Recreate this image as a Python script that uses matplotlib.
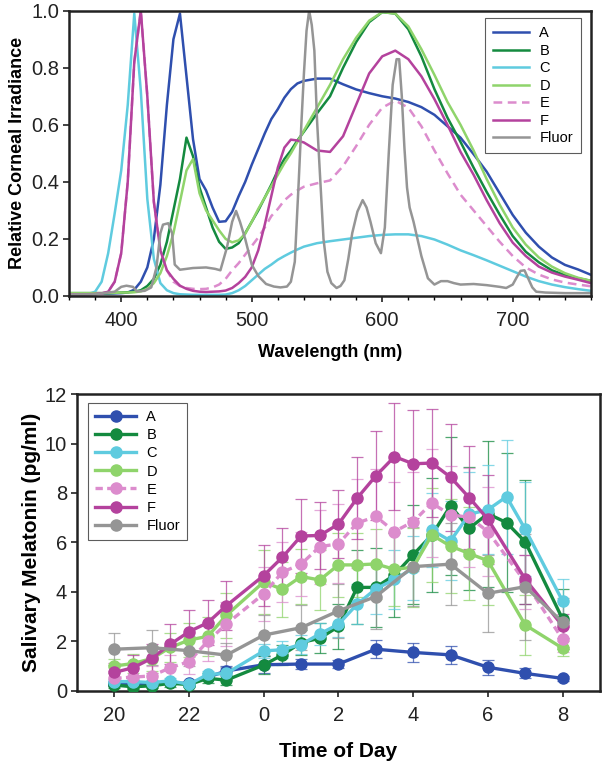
import matplotlib
matplotlib.use("Agg")
import matplotlib.pyplot as plt
from matplotlib.ticker import MultipleLocator

plt.rcParams['font.family'] = ['Liberation Sans', 'DejaVu Sans']

# ---------- spectra (top panel) ----------
wl = list(range(360, 540, 5)) + list(range(540, 761, 10))

spec_A = [0.008, 0.008, 0.008, 0.008, 0.008, 0.008, 0.008, 0.009, 0.010, 0.012,
          0.022, 0.050, 0.100, 0.200, 0.390, 0.670, 0.900, 0.990, 0.770, 0.550,
          0.410, 0.370, 0.310, 0.260, 0.262, 0.295, 0.350, 0.400, 0.460, 0.515,
          0.570, 0.620, 0.655, 0.695, 0.725, 0.745,
          0.754, 0.762, 0.762, 0.742, 0.724, 0.711, 0.700, 0.692, 0.680, 0.662,
          0.635, 0.595, 0.555, 0.497, 0.436, 0.360, 0.284, 0.222, 0.173, 0.135,
          0.109, 0.093, 0.074]
spec_B = [0.010, 0.010, 0.010, 0.010, 0.010, 0.010, 0.010, 0.011, 0.012, 0.013,
          0.015, 0.020, 0.035, 0.060, 0.110, 0.190, 0.300, 0.410, 0.555, 0.490,
          0.380, 0.310, 0.240, 0.190, 0.165, 0.170, 0.185, 0.220, 0.260, 0.300,
          0.345, 0.390, 0.440, 0.480, 0.510, 0.545,
          0.576, 0.640, 0.700, 0.800, 0.890, 0.960, 0.995, 0.990, 0.935, 0.840,
          0.725, 0.625, 0.540, 0.450, 0.365, 0.285, 0.210, 0.155, 0.118, 0.090,
          0.073, 0.062, 0.053]
spec_C = [0.005, 0.005, 0.005, 0.007, 0.015, 0.050, 0.150, 0.290, 0.440, 0.670,
          0.990, 0.720, 0.340, 0.130, 0.045, 0.020, 0.010, 0.006, 0.005, 0.004,
          0.004, 0.004, 0.004, 0.004, 0.005, 0.010, 0.020, 0.035, 0.055, 0.075,
          0.095, 0.110, 0.127, 0.140, 0.152, 0.163,
          0.173, 0.185, 0.192, 0.198, 0.204, 0.210, 0.214, 0.216, 0.216, 0.210,
          0.198, 0.180, 0.160, 0.143, 0.125, 0.106, 0.087, 0.068, 0.052, 0.040,
          0.031, 0.024, 0.018]
spec_D = [0.010, 0.010, 0.010, 0.010, 0.010, 0.010, 0.010, 0.011, 0.012, 0.012,
          0.013, 0.016, 0.025, 0.045, 0.080, 0.140, 0.220, 0.330, 0.440, 0.480,
          0.360, 0.300, 0.265, 0.230, 0.200, 0.188, 0.195, 0.218, 0.260, 0.305,
          0.345, 0.385, 0.425, 0.465, 0.500, 0.540,
          0.580, 0.660, 0.740, 0.830, 0.905, 0.965, 0.995, 0.990, 0.945, 0.865,
          0.775, 0.680, 0.600, 0.510, 0.410, 0.320, 0.240, 0.180, 0.135, 0.103,
          0.080, 0.064, 0.053]
spec_E = [0.005, 0.005, 0.005, 0.006, 0.007, 0.009, 0.015, 0.050, 0.150, 0.400,
          0.820, 1.000, 0.700, 0.330, 0.160, 0.090, 0.050, 0.035, 0.028, 0.025,
          0.024, 0.025, 0.030, 0.040, 0.060, 0.090, 0.115, 0.145, 0.175, 0.205,
          0.240, 0.280, 0.305, 0.335, 0.355, 0.370,
          0.383, 0.395, 0.405, 0.455, 0.525, 0.600, 0.660, 0.685, 0.660, 0.595,
          0.510, 0.430, 0.355, 0.300, 0.245, 0.190, 0.140, 0.100, 0.075, 0.058,
          0.047, 0.040, 0.034]
spec_F = [0.005, 0.005, 0.005, 0.006, 0.007, 0.009, 0.015, 0.050, 0.150, 0.400,
          0.820, 1.000, 0.700, 0.330, 0.160, 0.090, 0.060, 0.036, 0.025, 0.018,
          0.015, 0.014, 0.015, 0.016, 0.019, 0.028, 0.045, 0.067, 0.100, 0.160,
          0.250, 0.350, 0.450, 0.520, 0.548, 0.545,
          0.538, 0.510, 0.505, 0.560, 0.670, 0.780, 0.840, 0.860, 0.830, 0.770,
          0.690, 0.600, 0.505, 0.425, 0.336, 0.255, 0.187, 0.140, 0.103, 0.082,
          0.068, 0.057, 0.045]

fl_wl = [360, 380, 395, 400, 404, 409, 412, 418, 423, 427, 430, 432, 436, 439, 441,
         445, 455, 465, 472, 476, 481, 485, 488, 491, 495, 500, 505, 511, 517, 522,
         527, 530, 533, 536, 538, 540, 542, 544, 546, 548, 550, 552, 555, 558, 561,
         565, 568, 571, 574, 577, 581, 585, 588, 591, 595, 599, 602, 605, 608, 611,
         613, 615, 617, 619, 621, 624, 627, 630, 635, 640, 645, 650, 655, 660, 670,
         680, 690, 695, 700, 703, 706, 709, 712, 715, 718, 725, 740, 760]
spec_fluor = [0.005, 0.006, 0.015, 0.032, 0.036, 0.032, 0.016, 0.018, 0.030, 0.100,
              0.220, 0.250, 0.255, 0.220, 0.110, 0.092, 0.098, 0.100, 0.095, 0.090,
              0.170, 0.260, 0.298, 0.260, 0.200, 0.110, 0.070, 0.042, 0.033, 0.030,
              0.033, 0.050, 0.120, 0.400, 0.600, 0.780, 0.930, 1.000, 0.950, 0.860,
              0.620, 0.450, 0.200, 0.085, 0.045, 0.028, 0.035, 0.055, 0.130, 0.220,
              0.296, 0.336, 0.310, 0.260, 0.185, 0.150, 0.240, 0.500, 0.740, 0.830,
              0.830, 0.700, 0.520, 0.380, 0.310, 0.260, 0.200, 0.140, 0.062, 0.040,
              0.052, 0.052, 0.045, 0.040, 0.042, 0.038, 0.032, 0.028, 0.040, 0.065,
              0.088, 0.090, 0.060, 0.030, 0.015, 0.012, 0.010, 0.010]

# ---------- melatonin (bottom panel) ----------
# hours after midnight are written as 24 + h
t_hour = [20, 21, 22, 23, 24, 25, 26, 27, 28, 29, 30, 31, 32]
t_half = [20, 20.5, 21, 21.5, 22, 22.5, 23, 24, 24.5, 25, 25.5, 26, 26.5, 27,
          27.5, 28, 28.5, 29, 29.5, 30, 30.5, 31, 32]
t_half_b = [20, 20.5, 21, 21.5, 22, 22.5, 23, 24, 24.5, 25, 25.5, 26, 26.5, 27,
            27.5, 28, 28.5, 29, 29.5, 30, 31, 32]

mel_A = [0.28, 0.30, 0.30, 0.80, 1.05, 1.08, 1.08, 1.68, 1.55, 1.45, 0.95, 0.70, 0.50]
err_A = [0.10, 0.10, 0.10, 0.20, 0.35, 0.20, 0.15, 0.37, 0.40, 0.37, 0.30, 0.20, 0.10]

mel_B = [0.23, 0.16, 0.20, 0.30, 0.25, 0.50, 0.43, 1.04, 1.45, 1.95, 2.12, 2.60,
         4.18, 4.18, 4.68, 5.50, 6.30, 7.48, 6.57, 7.16, 6.80, 6.02, 2.90]
err_B = [0.10, 0.10, 0.10, 0.15, 0.10, 0.20, 0.20, 0.35, 0.40, 0.50, 0.60, 0.90,
         1.50, 1.60, 1.70, 2.00, 2.30, 2.80, 2.50, 2.95, 2.80, 2.50, 1.20]

mel_C = [0.37, 0.37, 0.33, 0.40, 0.26, 0.66, 0.70, 1.61, 1.66, 1.87, 2.30, 2.69,
         3.50, 4.12, 4.50, 4.95, 6.50, 6.06, 7.14, 7.32, 7.85, 6.53, 3.63]
err_C = [0.10, 0.10, 0.10, 0.10, 0.10, 0.15, 0.20, 0.30, 0.35, 0.40, 0.45, 0.50,
         0.80, 1.00, 1.20, 1.30, 1.50, 1.60, 1.70, 1.80, 2.30, 1.90, 0.90]

mel_D = [1.00, 1.10, 1.30, 1.75, 2.05, 2.20, 3.05, 4.40, 4.10, 4.62, 4.48, 5.09,
         5.09, 5.13, 4.91, 5.00, 6.30, 5.85, 5.55, 5.26, 2.66, 1.72]
err_D = [0.30, 0.40, 0.50, 0.60, 0.70, 0.80, 0.90, 1.30, 1.10, 1.10, 1.20, 1.30,
         1.30, 1.40, 1.50, 1.60, 1.90, 1.90, 1.90, 1.80, 1.20, 0.30]

mel_E = [0.50, 0.55, 0.60, 0.93, 1.18, 2.00, 2.70, 3.92, 4.80, 5.12, 5.83, 5.94,
         6.78, 7.05, 6.44, 6.84, 7.59, 7.11, 7.02, 6.44, 4.40, 2.08]
err_E = [0.30, 0.35, 0.40, 0.50, 0.50, 0.80, 0.90, 1.10, 1.20, 1.30, 1.50, 1.60,
         1.80, 1.90, 2.00, 2.00, 2.20, 2.00, 2.00, 1.80, 1.10, 0.50]

mel_F = [0.74, 0.93, 1.31, 1.88, 2.39, 2.75, 3.44, 4.66, 5.40, 6.26, 6.28, 6.74,
         7.79, 8.69, 9.47, 9.18, 9.21, 8.64, 7.81, 6.94, 4.51, 2.62]
err_F = [0.40, 0.50, 0.60, 0.80, 0.88, 0.90, 1.00, 1.22, 1.17, 1.50, 1.35, 1.38,
         1.66, 1.80, 2.16, 2.18, 2.18, 2.16, 2.07, 1.80, 1.00, 0.50]

mel_fluor = [1.68, 1.74, 1.62, 1.44, 2.25, 2.55, 3.23, 3.81, 5.02, 5.12, 3.94, 4.21, 2.77]
err_fluor = [0.65, 0.70, 0.60, 0.50, 0.80, 0.90, 1.10, 1.30, 1.60, 1.65, 1.55, 2.15, 1.00]

hour_ticks = [20, 22, 24, 26, 28, 30, 32]
hour_labels = ['20', '22', '0', '2', '4', '6', '8']

names = ['A', 'B', 'C', 'D', 'E', 'F', 'Fluor']
colors = ['#2f4fae', '#148a3f', '#5fcbdf', '#8fd46b', '#dc8ccd', '#b4429d', '#959595']

fig = plt.figure(figsize=(6.06, 7.64), dpi=100)

# top panel
ax1 = fig.add_axes([0.1139, 0.6126, 0.8614, 0.3734])
spectra = [(wl, spec_A), (wl, spec_B), (wl, spec_C), (wl, spec_D),
           (wl, spec_E), (wl, spec_F), (fl_wl, spec_fluor)]
for (x, y), name, c in zip(spectra, names, colors):
    ls = (0, (3.5, 2.2)) if name == 'E' else '-'
    ax1.plot(x, y, color=c, lw=1.8, ls=ls, label=name)
ax1.set_xlim(360, 760)
ax1.set_ylim(0, 1.0)
ax1.xaxis.set_major_locator(MultipleLocator(100))
ax1.xaxis.set_minor_locator(MultipleLocator(20))
ax1.yaxis.set_major_locator(MultipleLocator(0.2))
ax1.yaxis.set_major_formatter(plt.FormatStrFormatter('%.1f'))
ax1.set_xlabel('Wavelength (nm)', fontsize=13, fontweight='bold', labelpad=10)
ax1.set_ylabel('Relative Corneal Irradiance', fontsize=13, fontweight='bold', labelpad=4)
leg1 = ax1.legend(loc='upper right', fontsize=10.5, frameon=True, fancybox=False,
                  edgecolor='#333333', handlelength=2.5, handletextpad=0.7,
                  labelspacing=0.24, borderpad=0.55, borderaxespad=0,
                  bbox_to_anchor=(0.981, 0.974))
leg1.get_frame().set_linewidth(0.8)

# bottom panel
ax2 = fig.add_axes([0.127, 0.0959, 0.863, 0.3883])
series = [(t_hour, mel_A, err_A), (t_half, mel_B, err_B), (t_half, mel_C, err_C),
          (t_half_b, mel_D, err_D), (t_half_b, mel_E, err_E), (t_half_b, mel_F, err_F),
          (t_hour, mel_fluor, err_fluor)]
for (x, y, e), name, c in zip(series, names, colors):
    ax2.errorbar(x, y, yerr=e, fmt='none', ecolor=c, elinewidth=0.9,
                 capsize=4, capthick=0.9, alpha=0.75, zorder=1)
for (x, y, e), name, c in zip(series, names, colors):
    ls = (0, (2.2, 1.3)) if name == 'E' else '-'
    ax2.plot(x, y, color=c, lw=2.4, ls=ls, marker='o', ms=8, mec=c,
             label=name, zorder=3)
ax2.set_xlim(19, 33)
ax2.set_ylim(0, 12)
ax2.set_xticks(hour_ticks)
ax2.set_xticklabels(hour_labels)
ax2.yaxis.set_major_locator(MultipleLocator(2))
ax2.set_xlabel('Time of Day', fontsize=15, fontweight='bold', labelpad=12)
ax2.set_ylabel('Salivary Melatonin (pg/ml)', fontsize=15, fontweight='bold', labelpad=3)
leg2 = ax2.legend(loc='upper left', fontsize=10.5, frameon=True, fancybox=False,
                  edgecolor='#333333', handlelength=2.8, handletextpad=0.7,
                  labelspacing=0.28, borderpad=0.5, borderaxespad=0,
                  bbox_to_anchor=(0.021, 0.97))
leg2.get_frame().set_linewidth(0.8)

for ax in (ax1, ax2):
    for sp in ax.spines.values():
        sp.set_linewidth(1.8)
        sp.set_color('#222222')
    ax.tick_params(which='major', direction='out', length=4, width=1.2,
                   labelsize=14.5, colors='#222222', pad=3)
    ax.tick_params(which='minor', direction='out', length=3, width=1)
ax1.tick_params(axis='x', pad=7)
ax2.tick_params(axis='x', pad=7)

fig.savefig('out.png', dpi=100)
